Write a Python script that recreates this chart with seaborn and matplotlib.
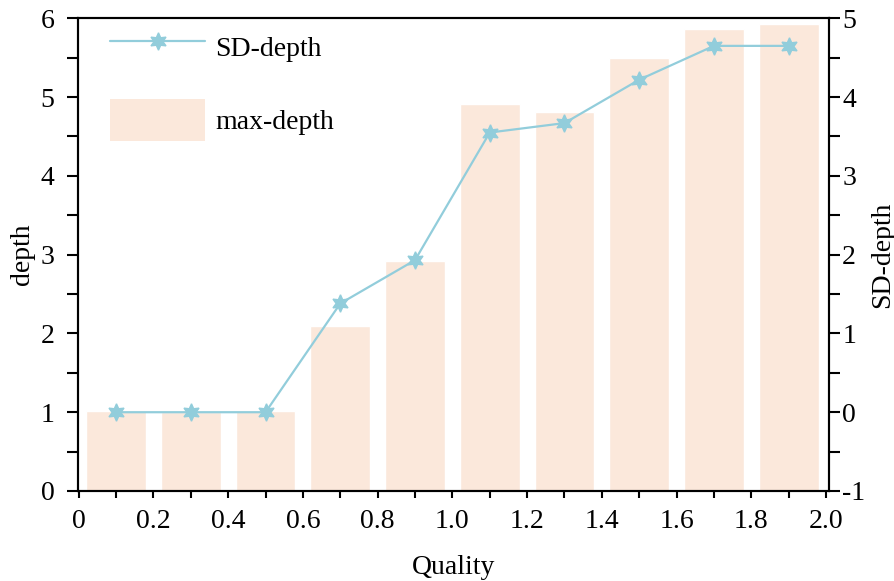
import matplotlib
matplotlib.use("Agg")
import matplotlib.pyplot as plt
import seaborn as sns
import pandas as pd
from matplotlib.ticker import MultipleLocator
from matplotlib.patches import Patch
from matplotlib.lines import Line2D

quality = [0.1, 0.3, 0.5, 0.7, 0.9, 1.1, 1.3, 1.5, 1.7, 1.9]
max_depth = [1.02, 1.0, 1.02, 2.1, 2.92, 4.91, 4.81, 5.49, 5.87, 5.93]
sd_depth = [0.0, 0.0, 0.0, 1.38, 1.93, 3.55, 3.67, 4.22, 4.65, 4.65]

x_ticks = [0, 0.2, 0.4, 0.6, 0.8, 1.0, 1.2, 1.4, 1.6, 1.8, 2.0]
x_labels = ["0", "0.2", "0.4", "0.6", "0.8", "1.0", "1.2", "1.4", "1.6", "1.8", "2.0"]
y_ticks = [0, 1, 2, 3, 4, 5, 6]
y2_ticks = [-1, 0, 1, 2, 3, 4, 5]
y2_labels = ["-1", "0", "1", "2", "3", "4", "5"]

bar_color = "#FBE8DB"
line_color = "#92CDDB"

sns.set_style("ticks")
plt.rcParams["font.family"] = ["Liberation Serif", "DejaVu Serif"]
plt.rcParams["font.size"] = 20
for k in ("text.color", "axes.labelcolor", "xtick.color", "ytick.color", "axes.edgecolor"):
    plt.rcParams[k] = "black"

df = pd.DataFrame({"Quality": quality, "max-depth": max_depth, "SD-depth": sd_depth})

fig = plt.figure(figsize=(8.95, 5.81), dpi=100)
ax = fig.add_axes([78 / 895, 1 - 491 / 581, (829 - 78) / 895, (491 - 18.3) / 581])

sns.barplot(data=df, x="Quality", y="max-depth", native_scale=True, width=0.8,
            color=bar_color, saturation=1, ax=ax, zorder=1)
ax.set_xlim(-0.002, 2.008)
ax.set_ylim(0, 6)

star = (6, 1, 0)
ax2 = ax.twinx()
sns.lineplot(data=df, x="Quality", y="SD-depth", ax=ax2, color=line_color,
             linewidth=1.6, marker=star, markersize=12.5, markeredgewidth=1,
             markeredgecolor=line_color, markerfacecolor=line_color)
ax2.set_ylim(-1, 5)
ax2.set_xlim(-0.002, 2.008)

ax.set_xticks(x_ticks)
ax.set_xticklabels(x_labels)
ax.xaxis.set_minor_locator(MultipleLocator(0.1))
ax.set_yticks(y_ticks)
ax.set_yticklabels([str(v) for v in y_ticks])
ax.yaxis.set_minor_locator(MultipleLocator(0.5))
ax2.set_yticks(y2_ticks)
ax2.set_yticklabels(y2_labels)
ax2.yaxis.set_minor_locator(MultipleLocator(0.5))

ax.tick_params(axis="x", which="both", direction="out", length=5, width=1.5, pad=8)
ax.tick_params(axis="y", which="both", direction="out", length=8, width=1.5, pad=9)
ax2.tick_params(axis="y", which="both", direction="out", length=8, width=1.5, pad=1.5)

for a in (ax, ax2):
    for s in a.spines.values():
        s.set_visible(True)
        s.set_linewidth(1.5)
        s.set_color("black")

ax.set_xlabel("Quality", labelpad=15)
ax.set_ylabel("depth", labelpad=4)
ax2.set_ylabel("SD-depth", labelpad=3.5)

handles = [
    Line2D([], [], color=line_color, linewidth=1.6, marker=star, markersize=12.5,
           markeredgewidth=1, markeredgecolor=line_color, markerfacecolor=line_color),
    Patch(facecolor=bar_color, edgecolor="none"),
]
ax2.legend(handles, ["SD-depth", "max-depth"], loc="upper left",
           bbox_to_anchor=(99 / 895, 1 - 14.5 / 581), bbox_transform=fig.transFigure,
           frameon=False, handlelength=3.42, handleheight=2.0, labelspacing=1.08,
           handletextpad=0.36, borderpad=0.4, borderaxespad=0)

fig.savefig("out.png", dpi=100)
